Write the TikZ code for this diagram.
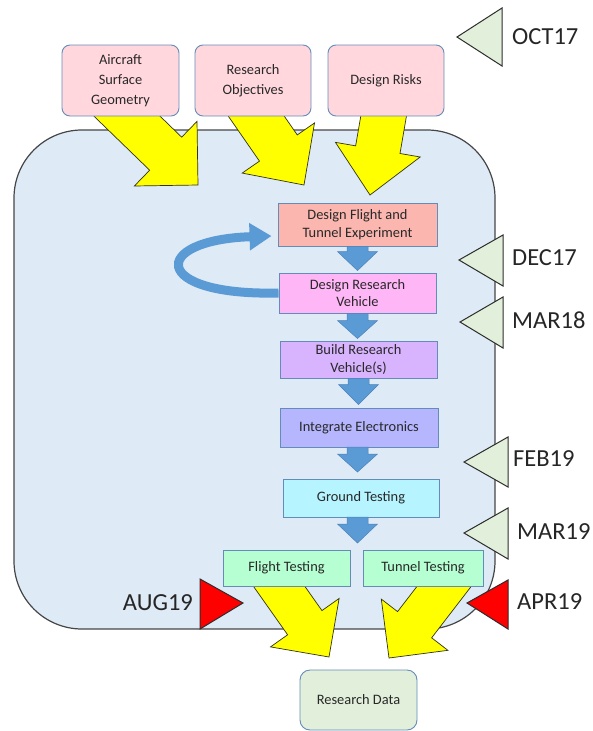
\documentclass[tikz,border=0pt]{standalone}
\usepackage{fontspec}
\setmainfont{Carlito}
\usetikzlibrary{calc,arrows.meta}
\pgfdeclarelayer{back}
\pgfdeclarelayer{mid}
\pgfsetlayers{back,mid,main}
\definecolor{bigfill}{RGB}{222,234,246}
\definecolor{bigedge}{RGB}{70,70,70}
\definecolor{topfill}{RGB}{255,215,221}
\definecolor{boxedge}{RGB}{100,140,185}
\definecolor{yel}{RGB}{255,255,0}
\definecolor{yeledge}{RGB}{50,50,20}
\definecolor{gtrifill}{RGB}{226,239,218}
\definecolor{triedge}{RGB}{45,45,45}
\definecolor{redtri}{RGB}{255,0,0}
\definecolor{arrblue}{RGB}{91,155,213}
\definecolor{arrblueedge}{RGB}{75,130,185}
\definecolor{cDF}{RGB}{250,182,175}
\definecolor{cDR}{RGB}{255,182,246}
\definecolor{cBV}{RGB}{216,180,255}
\definecolor{cIE}{RGB}{182,182,255}
\definecolor{cGT}{RGB}{182,244,255}
\definecolor{cFT}{RGB}{182,255,210}
\definecolor{txt}{RGB}{40,40,40}
\newcommand\blockarrow[6]{%
  \coordinate (bah) at ($(#3)!#6!(#2)$);
  \draw[#1] ($(#2)!#4!90:(#3)$) -- ($(bah)!#4!90:(#3)$) -- ($(bah)!#5!90:(#3)$)
    -- (#3) -- ($(bah)!#5!-90:(#3)$) -- ($(bah)!#4!-90:(#3)$) -- ($(#2)!#4!-90:(#3)$) -- cycle;
}
\tikzset{
  topbox/.style={draw=boxedge, line width=0.9pt, fill=topfill, rounded corners=8pt,
    minimum width=116pt, minimum height=71pt, inner sep=2pt, align=center, text=txt,
    font=\fontsize{14.4}{20}\selectfont},
  flowbox/.style={draw=boxedge, line width=0.9pt, inner sep=2pt, align=center, text=txt,
    font=\fontsize{14.4}{17.5}\selectfont},
  yarr/.style={fill=yel, draw=yeledge, line width=0.7pt, line join=miter},
  barr/.style={fill=arrblue, draw=arrblueedge, line width=0.5pt},
  gtri/.style={fill=gtrifill, draw=triedge, line width=1pt, line join=miter},
  rtri/.style={fill=redtri, draw=triedge, line width=1pt, line join=miter},
  lab/.style={inner sep=0pt, text=black!85, font=\fontsize{24.5}{29}\selectfont},
  curv/.style={draw=arrblue, line width=9pt, -{Triangle[length=22pt,width=26pt]}}
}
\begin{document}
\begin{tikzpicture}[x=1pt,y=-1pt]
\useasboundingbox (0,0) rectangle (592,731);
% big container
\begin{pgfonlayer}{back}
\draw[fill=bigfill, draw=bigedge, line width=1.2pt, rounded corners=68pt] (14,130) rectangle (495,629);
\end{pgfonlayer}
% top input boxes
\node[topbox, minimum width=117pt] (ac) at (120.5,80.5) {Aircraft\\Surface\\Geometry};
\node[topbox] (ro) at (253,80.5) {Research\\Objectives};
\node[topbox] (dk) at (386,80.5) {Design Risks};
% flowchart boxes
\node[flowbox, fill=cDF, minimum width=159pt, minimum height=43pt] (df) at (357.5,224.5) {Design Flight and\\Tunnel Experiment};
\node[flowbox, fill=cDR, minimum width=157pt, minimum height=40pt] (dr) at (357.5,293) {Design Research\\Vehicle};
\node[flowbox, fill=cBV, minimum width=157pt, minimum height=37pt] (bv) at (358.5,359.5) {Build Research\\Vehicle(s)};
\node[flowbox, fill=cIE, minimum width=158pt, minimum height=39pt] (ie) at (359,427.5) {Integrate Electronics};
\node[flowbox, fill=cGT, minimum width=156pt, minimum height=38pt] (gt) at (361,498) {Ground Testing};
\node[flowbox, fill=cFT, minimum width=127pt, minimum height=36pt] (ft) at (286.5,568) {Flight Testing};
\node[flowbox, fill=cFT, minimum width=120pt, minimum height=36pt] (tt) at (423,568) {Tunnel Testing};
\node[flowbox, fill=gtrifill, rounded corners=10pt, minimum width=117pt, minimum height=60pt] (rd) at (358.5,700) {Research Data};
% yellow block arrows
\coordinate (y1s) at ([shift={(-20,10)}]ac.center);
\coordinate (y1t) at (198,185);
\coordinate (y2s) at ([shift={(-14.5,10)}]ro.center);
\coordinate (y2t) at (304,185);
\coordinate (y3s) at ([shift={(4.4,-3.7)}]dk.center);
\coordinate (y3t) at (370,195);
\coordinate (y4s) at ([shift={(-21,-1)}]ft.center);
\coordinate (y4t) at (329,657);
\coordinate (y5s) at ([shift={(36,-1)}]tt.center);
\coordinate (y5t) at (389,658);
\begin{pgfonlayer}{mid}
\blockarrow{yarr}{y1s}{y1t}{23pt}{45pt}{45pt}
\blockarrow{yarr}{y2s}{y2t}{23pt}{44pt}{45pt}
\blockarrow{yarr}{y3s}{y3t}{22.5pt}{43pt}{46pt}
\blockarrow{yarr}{y4s}{y4t}{21pt}{42pt}{42pt}
\blockarrow{yarr}{y5s}{y5t}{21.5pt}{42pt}{42pt}
\end{pgfonlayer}
% blue down arrows
\coordinate (b1t) at ([yshift=2pt]df.south |- dr.north);
\coordinate (b2t) at ([yshift=2pt]dr.south |- bv.north);
\coordinate (b3t) at ([yshift=3pt]bv.south |- ie.north);
\coordinate (b4s) at (357.5,447);
\coordinate (b4t) at (357.5,472);
\coordinate (b5s) at (357.5,517);
\coordinate (split) at (357.5,543);
\blockarrow{barr}{df.south}{b1t}{10.5pt}{20pt}{19pt}
\blockarrow{barr}{dr.south}{b2t}{10.5pt}{20pt}{18pt}
\blockarrow{barr}{bv.south}{b3t}{10.5pt}{20pt}{20pt}
\blockarrow{barr}{b4s}{b4t}{10.5pt}{20pt}{18pt}
\blockarrow{barr}{b5s}{split}{10.5pt}{20pt}{19pt}
% curved feedback arrow
\coordinate (ctip) at ([shift={(-6,11.5)}]df.west);
\draw[curv] (dr.west) .. controls (150,296) and (150,240) .. (ctip);
% milestone triangles
\draw[gtri] (457,37) -- (502,8) -- (502,66) -- cycle;
\node[lab, anchor=west] (oct) at (512,37) {OCT17};
\draw[gtri] (459,260) -- (503,235) -- (503,286) -- cycle;
\node[lab, anchor=west] (dec) at (512,258) {DEC17};
\draw[gtri] (460,322) -- (503,297) -- (503,348) -- cycle;
\node[lab, anchor=west] (mar18) at (512,320) {MAR18};
\draw[gtri] (464,462) -- (508,437) -- (508,487) -- cycle;
\node[lab, anchor=west] (feb) at (513,459) {FEB19};
\draw[gtri] (464,533) -- (508,508) -- (508,559) -- cycle;
\node[lab, anchor=west] (mar19) at (517,532) {MAR19};
\draw[rtri] (467,603) -- (508,580) -- (508,629) -- cycle;
\node[lab, anchor=west] (apr) at (517,602) {APR19};
\draw[rtri] (243,603) -- (200,579) -- (200,629) -- cycle;
\node[lab, anchor=east] (aug) at (193,603) {AUG19};
\end{tikzpicture}
\end{document}
